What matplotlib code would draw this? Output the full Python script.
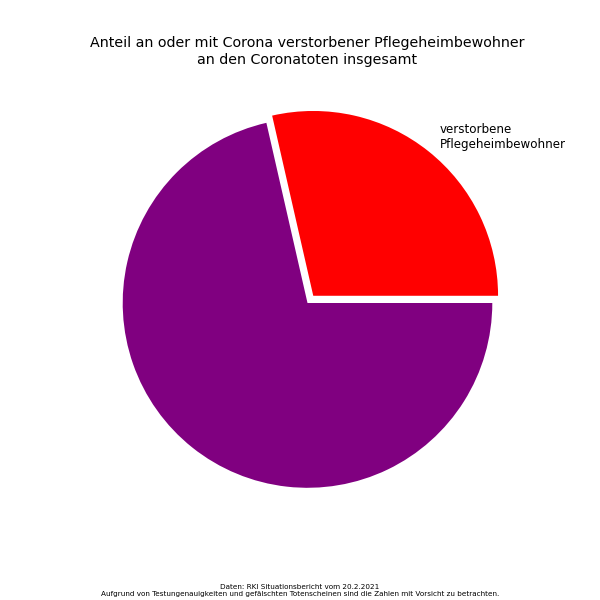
import matplotlib
matplotlib.use('Agg')
import matplotlib.pyplot as plt

# Anteile (RKI Situationsbericht 20.2.2021, ungefähr)
labels = ['verstorbene\nPflegeheimbewohner', '']
werte = [19400, 48500]
farben = ['red', 'purple']
explode = [0.05, 0]

fig, ax = plt.subplots(figsize=(6, 6), dpi=100)
ax.pie(werte, labels=labels, colors=farben, explode=explode,
       textprops={'fontsize': 8.6})
ax.set_title('Anteil an oder mit Corona verstorbener Pflegeheimbewohner\nan den Coronatoten insgesamt',
             fontsize=10.3)

fig.text(0.5, 0.016,
         'Daten: RKI Situationsbericht vom 20.2.2021\n'
         'Aufgrund von Testungenauigkeiten und gefälschten Totenscheinen sind die Zahlen mit Vorsicht zu betrachten.',
         ha='center', va='center', fontsize=5.2)

plt.savefig('out.png', dpi=100)
